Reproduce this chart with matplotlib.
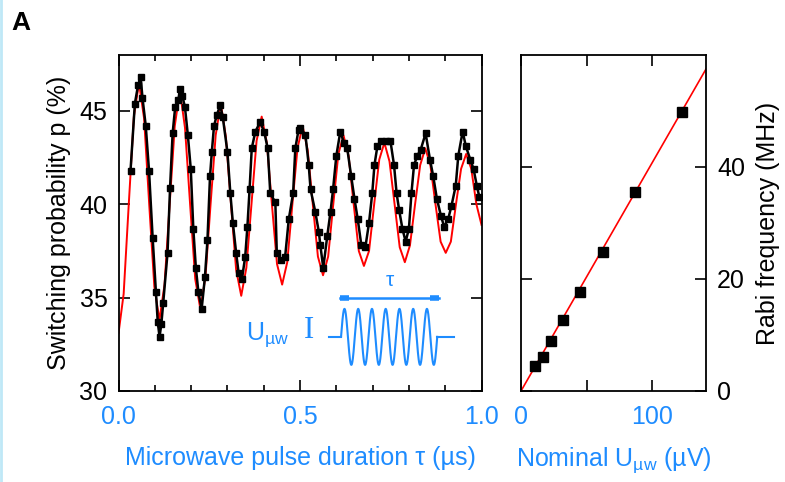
import matplotlib
matplotlib.use("Agg")
import matplotlib.pyplot as plt
from matplotlib.lines import Line2D
import numpy as np

plt.rcParams['font.family'] = ['Liberation Sans', 'DejaVu Sans']
plt.rcParams['mathtext.fontset'] = 'custom'
plt.rcParams['mathtext.rm'] = 'Liberation Sans'
plt.rcParams['mathtext.it'] = 'Liberation Sans'

blu = '#1e8cff'

# dati misurati (pannello sinistro)
tau_data = [0.033, 0.045, 0.054, 0.061, 0.066, 0.075, 0.084, 0.094, 0.103, 0.108,
            0.113, 0.118, 0.123, 0.135, 0.142, 0.149, 0.156, 0.165, 0.169, 0.176,
            0.183, 0.191, 0.199, 0.206, 0.213, 0.220, 0.229, 0.238, 0.245, 0.252,
            0.257, 0.263, 0.271, 0.280, 0.287, 0.300, 0.308, 0.315, 0.324, 0.331,
            0.340, 0.349, 0.355, 0.361, 0.367, 0.377, 0.390, 0.401, 0.411, 0.418,
            0.432, 0.436, 0.448, 0.459, 0.469, 0.481, 0.487, 0.496,
            0.501, 0.515, 0.524, 0.529, 0.542, 0.552, 0.556, 0.564, 0.575, 0.584,
            0.591, 0.600, 0.611, 0.621, 0.630, 0.641, 0.650, 0.659, 0.669, 0.680,
            0.690, 0.699, 0.705, 0.713, 0.722, 0.736,
            0.749, 0.759, 0.766, 0.773, 0.782, 0.791, 0.800, 0.807, 0.814, 0.823,
            0.832, 0.846, 0.858, 0.867, 0.877, 0.888, 0.897, 0.908, 0.917, 0.929,
            0.936, 0.948, 0.957, 0.969, 0.978, 0.987, 0.994]
p_data = [41.8, 45.4, 46.4, 46.8, 45.7, 44.2, 41.8, 38.2, 35.3, 33.7,
          32.9, 33.6, 34.7, 37.4, 40.9, 43.8, 45.2, 45.6, 46.2, 45.8,
          45.2, 43.7, 41.9, 38.7, 36.6, 35.3, 34.4, 36.1, 38.1, 41.5,
          42.8, 44.2, 44.8, 45.3, 44.7, 42.8, 40.6, 39.0, 37.4, 36.3,
          36.0, 37.2, 38.8, 40.8, 43.0, 43.9, 44.4, 43.9, 43.0, 40.6,
          40.1, 37.4, 37.0, 37.2, 39.2, 40.6, 43.0, 44.0,
          44.1, 43.7, 42.1, 40.8, 39.6, 38.5, 37.8, 36.6, 38.3, 39.6,
          40.8, 42.6, 43.9, 43.3, 43.0, 41.5, 40.3, 39.2, 37.8, 37.7,
          39.0, 40.6, 42.1, 43.1, 43.4, 43.4,
          43.4, 42.1, 40.6, 39.7, 38.7, 38.0, 38.7, 40.6, 42.1, 42.6,
          42.9, 43.8, 42.4, 41.5, 40.3, 39.4, 38.8, 39.2, 39.9, 41.0,
          42.6, 43.9, 43.1, 42.4, 41.9, 41.0, 40.4]

# curva di fit (rossa), letta a passo costante su 0..1 us
p_fit = [33.1, 35.2, 40.0, 44.7, 46.5, 44.6, 40.0, 35.6,
         33.8, 35.7, 40.0, 44.2, 46.1, 44.1, 40.0, 36.0,
         34.4, 36.1, 40.0, 43.7, 45.4, 43.6, 40.0, 36.5,
         35.1, 36.6, 40.0, 43.4, 44.7, 43.3, 40.0, 36.8,
         35.7, 36.9, 40.0, 43.0, 44.2, 42.9, 40.0, 37.2,
         36.2, 37.2, 40.0, 42.7, 43.7, 42.6, 40.0, 37.5,
         36.7, 37.5, 40.0, 42.4, 43.3, 42.3, 40.0, 37.7,
         36.9, 37.8, 40.0, 42.1, 43.0, 42.1, 40.0, 38.0,
         37.4, 38.0, 40.0, 41.9, 42.7, 41.9, 40.0, 38.9]
tau_fit = np.linspace(0, 1.0, len(p_fit))

# pannello destro
u_nom = [10.7, 16.5, 22.6, 31.8, 45.0, 62.3, 87.0, 123.0]
f_rabi = [4.5, 6.0, 8.9, 12.6, 17.7, 24.8, 35.6, 49.8]
fit_u = [0, 141.5]
fit_f = [0, 57.7]

fig = plt.figure(figsize=(7.85, 4.82), dpi=100)
ax = fig.add_axes([0.1510, 0.1888, 0.4624, 0.6971])
ax2 = fig.add_axes([0.6637, 0.1888, 0.2357, 0.6971])

fs = 18

# --- pannello sinistro
ax.plot(tau_fit, p_fit, color='red', lw=1.4)
ax.plot(tau_data, p_data, color='black', lw=1.8, marker='s', ms=5)
ax.set_xlim(0, 1.0)
ax.set_ylim(30, 48)
ax.set_xticks([0, 0.5, 1.0])
ax.set_xticklabels(['0.0', '0.5', '1.0'])
ax.set_xticks(np.arange(0.1, 1.0, 0.1), minor=True)
ax.set_yticks([30, 35, 40, 45])
ax.tick_params(which='both', direction='in', top=True, right=True, width=1.2,
               labelsize=fs, pad=8)
ax.tick_params(which='major', length=8)
ax.tick_params(which='minor', length=4)
ax.tick_params(axis='x', labelcolor=blu, pad=10)
ax.set_xlabel('Microwave pulse duration τ (µs)', fontsize=fs, color=blu, labelpad=12)
ax.set_ylabel('Switching probability p (%)', fontsize=fs, labelpad=6)
for s in ax.spines.values():
    s.set_linewidth(1.3)

# schema dell'impulso
ax.plot([0.61, 0.884], [35.0, 35.0], color=blu, lw=1.8)
ax.plot([0.61, 0.635], [35.0, 35.0], color=blu, lw=4, solid_capstyle='butt')
ax.plot([0.859, 0.884], [35.0, 35.0], color=blu, lw=4, solid_capstyle='butt')
ax.text(0.747, 35.4, 'τ', color=blu, fontsize=15, ha='center', va='bottom')
n_cicli = 7
xs = np.linspace(0.613, 0.878, 400)
ys = 32.9 + 1.5 * np.sin(2 * np.pi * n_cicli * (xs - 0.613) / (0.878 - 0.613))
ax.plot([0.58, 0.613], [32.9, 32.9], color=blu, lw=1.5)
ax.plot(xs, ys, color=blu, lw=1.5)
ax.plot([0.878, 0.925], [32.9, 32.9], color=blu, lw=1.5)
ax.text(0.35, 33.0, r'U$_{\mathrm{µw}}$', color=blu, fontsize=18, ha='left', va='center')
ax.text(0.525, 33.25, 'I', color=blu, fontsize=22, family='Liberation Serif',
        ha='center', va='center')

# --- pannello destro
ax2.plot(fit_u, fit_f, color='red', lw=1.2)
ax2.plot(u_nom, f_rabi, 's', color='black', ms=6.5)
ax2.set_xlim(0, 141)
ax2.set_ylim(0, 60)
ax2.set_xticks([0, 100])
ax2.set_xticks([50], minor=True)
ax2.set_yticks([0, 20, 40])
ax2.tick_params(which='both', direction='in', top=True, left=True, right=True,
                labelleft=False, labelright=True, width=1.2, length=8,
                labelsize=fs, pad=8)
ax2.tick_params(axis='x', labelcolor=blu, pad=10)
ax2.yaxis.set_label_position('right')
ax2.set_ylabel('Rabi frequency (MHz)', fontsize=fs, labelpad=8)
ax2.set_xlabel(r'Nominal U$_{\mathrm{µw}}$ (µV)', fontsize=fs, color=blu, labelpad=12)
for s in ax2.spines.values():
    s.set_linewidth(1.3)

fig.text(0.014, 0.952, 'A', fontsize=19, fontweight='bold', va='center')
fig.add_artist(Line2D([0.0015, 0.0015], [0, 1], color='#bfe8f7', lw=2))

plt.savefig('out.png', dpi=100)
plt.close()
